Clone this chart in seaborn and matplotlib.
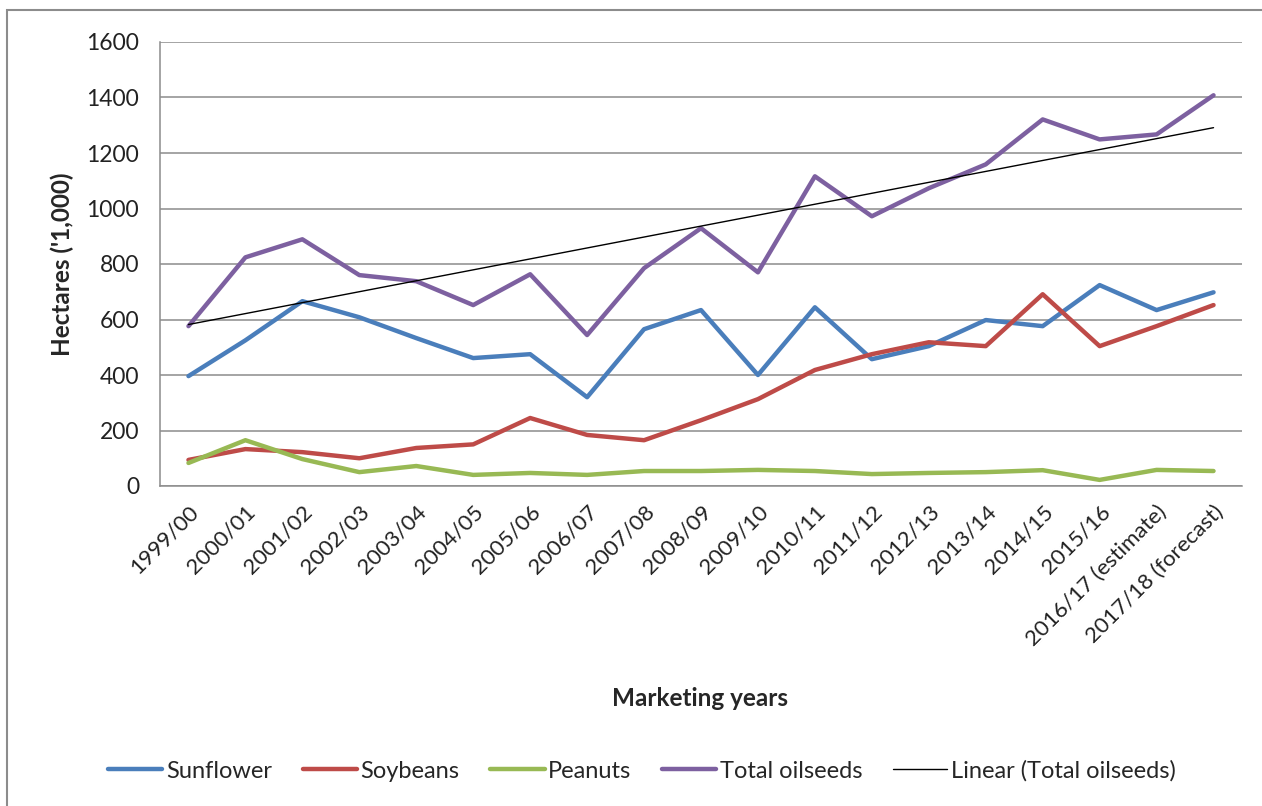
import numpy as np
import pandas as pd
import matplotlib
matplotlib.use("Agg")
import matplotlib.pyplot as plt
import seaborn as sns
from matplotlib.lines import Line2D
from matplotlib.patches import Rectangle

years = ["1999/00", "2000/01", "2001/02", "2002/03", "2003/04", "2004/05",
         "2005/06", "2006/07", "2007/08", "2008/09", "2009/10", "2010/11",
         "2011/12", "2012/13", "2013/14", "2014/15", "2015/16",
         "2016/17 (estimate)", "2017/18 (forecast)"]
sunflower = [396, 525, 666, 608, 533, 461, 475, 320, 565, 634, 400, 644,
             457, 504, 598, 576, 724, 634, 698]
soybeans = [94, 133, 122, 100, 137, 150, 245, 184, 165, 237, 313, 418,
            475, 518, 504, 691, 504, 576, 652]
peanuts = [83, 165, 97, 50, 72, 40, 47, 40, 54, 54, 58, 54,
           43, 47, 50, 57, 22, 58, 54]
total = [576, 824, 889, 760, 738, 652, 763, 544, 785, 929, 770, 1116,
         972, 1073, 1159, 1321, 1249, 1267, 1408]
series_names = ["Sunflower", "Soybeans", "Peanuts", "Total oilseeds"]
colors = ["#4A7EBB", "#BE4B48", "#98B954", "#7D60A0"]
yticks = [0, 200, 400, 600, 800, 1000, 1200, 1400, 1600]

sns.set_style("white")
plt.rcParams["font.family"] = ["Lato", "DejaVu Sans"]

idx = np.arange(len(years))
df = pd.DataFrame({
    "idx": np.tile(idx, 4),
    "value": sunflower + soybeans + peanuts + total,
    "series": np.repeat(series_names, len(years)),
})

fig = plt.figure(figsize=(12.62, 8.06), dpi=100)
W, H = 1262, 806
ax = fig.add_axes([160 / W, 1 - 486 / H, (1242 - 160) / W, (486 - 42) / H])

for yv in yticks:
    ax.axhline(yv, color="#8C8C8C", lw=1.1, zorder=0)

sns.lineplot(data=df, x="idx", y="value", hue="series", palette=colors,
             hue_order=series_names, linewidth=3.2, ax=ax, legend=False,
             solid_capstyle="round", zorder=3)

coef = np.polyfit(idx, total, 1)
trend = np.polyval(coef, idx)
ax.plot(idx, trend, color="black", lw=1.0, zorder=4)

ax.set_xlim(-0.5, len(years) - 0.5)
ax.set_ylim(0, 1600)
ax.set_yticks(yticks)
ax.set_yticklabels([str(v) for v in yticks], fontsize=16.5, color="#222222")
ax.set_xticks(idx)
ax.set_xticklabels(years, rotation=45, ha="right", rotation_mode="anchor",
                   fontsize=16, color="#222222")
ax.set_xticks(np.arange(-0.5, len(years)), minor=True)
ax.tick_params(axis="x", which="major", length=0, pad=11)
ax.tick_params(axis="x", which="minor", length=7, width=1.1, color="#8C8C8C",
               direction="out")
ax.tick_params(axis="y", which="major", length=7, width=1.1, color="#8C8C8C",
               direction="out", pad=8)
for s in ["top", "right"]:
    ax.spines[s].set_visible(False)
for s in ["left", "bottom"]:
    ax.spines[s].set_color("#8C8C8C")
    ax.spines[s].set_linewidth(1.1)

ax.set_xlabel("")
ax.set_ylabel("")
fig.text(62 / W, 1 - 264 / H, "Hectares ('1,000)", rotation=90, ha="center",
         va="center", fontsize=17.5, fontweight="bold")
fig.text(700 / W, 1 - 698 / H, "Marketing years", ha="center", va="center",
         fontsize=17.5, fontweight="bold")

handles = [Line2D([0], [0], color=c, lw=3.2, solid_capstyle="round") for c in colors]
handles.append(Line2D([0], [0], color="black", lw=1.0))
labels = series_names + ["Linear (Total oilseeds)"]
fig.legend(handles, labels, loc="center", bbox_to_anchor=(642 / W, 1 - 771 / H),
           ncol=5, frameon=False, fontsize=17, handlelength=2.3,
           handletextpad=0.15, columnspacing=1.3)

fig.patches.append(Rectangle((7 / W, -0.1), 1.2, 1 - 10 / H + 0.1,
                             transform=fig.transFigure, fill=False,
                             edgecolor="#8C8C8C", lw=1.5))

fig.savefig("out.png", dpi=100)
